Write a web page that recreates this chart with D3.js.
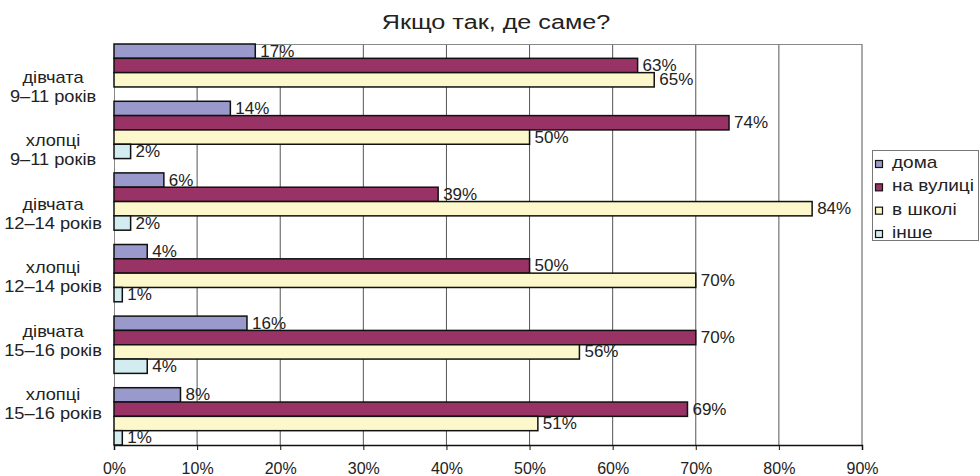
<!DOCTYPE html>
<html>
<head>
<meta charset="utf-8">
<script src="https://cdn.jsdelivr.net/npm/d3@7"></script>
<style>
  body { margin: 0; background: #fff; }
  svg { display: block; font-family: "Liberation Sans", Arial, sans-serif; }
</style>
</head>
<body>
<div id="chart"></div>
<script>
const title = "Якщо так, де саме?";
const groups = ["дівчата|9–11 років", "хлопці|9–11 років", "дівчата|12–14 років",
                "хлопці|12–14 років", "дівчата|15–16 років", "хлопці|15–16 років"];
const seriesNames = ["дома", "на вулиці", "в школі", "інше"];
const homeVals   = [17, 14, 6, 4, 16, 8];
const streetVals = [63, 74, 39, 50, 70, 69];
const schoolVals = [65, 50, 84, 70, 56, 51];
const otherVals  = [null, 2, 2, 1, 4, 1];
const xTicks = [0, 10, 20, 30, 40, 50, 60, 70, 80, 90];
const colors = ["#9999cc", "#993366", "#fcf8cc", "#d2ecef"];

const seriesVals = [homeVals, streetVals, schoolVals, otherVals];

const width = 980, height = 476;
const plot = { left: 114, right: 862, top: 44, bottom: 445 };

const svg = d3.select("#chart").append("svg")
    .attr("width", width)
    .attr("height", height);

// one slot per bar, with an empty slot between groups (none after the first group)
const slots = [];
groups.forEach((g, i) => {
    seriesNames.forEach(s => slots.push(i + "|" + s));
    if (i > 0 && i < groups.length - 1) slots.push("gap" + i);
});

const x = d3.scaleLinear().domain([0, 90]).range([plot.left, plot.right]);
const y = d3.scaleBand().domain(slots).range([plot.top, plot.bottom]).padding(0);
const labelY = d3.scalePoint().domain(groups).range([83, 400]);

// title (the source font is a bit wider than Arial)
svg.append("text")
    .attr("transform", "translate(496,29) scale(1.2,1)")
    .attr("text-anchor", "middle")
    .style("font-size", "21px")
    .attr("fill", "#222")
    .text(title);

// gridlines
svg.append("g").selectAll("line")
    .data(xTicks.filter(d => d > 0))
    .enter().append("line")
    .attr("x1", d => x(d)).attr("x2", d => x(d))
    .attr("y1", plot.top).attr("y2", plot.bottom)
    .attr("stroke", "#555").attr("stroke-width", 1);

svg.append("line")
    .attr("x1", plot.left).attr("x2", plot.right)
    .attr("y1", plot.top + 0.5).attr("y2", plot.top + 0.5)
    .attr("stroke", "#888");
svg.append("line")
    .attr("x1", plot.left + 0.5).attr("x2", plot.left + 0.5)
    .attr("y1", plot.top).attr("y2", plot.bottom)
    .attr("stroke", "#888");

// bars
const bars = [];
groups.forEach((g, i) => {
    seriesNames.forEach((s, j) => {
        const v = seriesVals[j][i];
        if (v != null) bars.push({ group: i, series: j, key: i + "|" + s, value: v });
    });
});

svg.append("g").selectAll("rect")
    .data(bars)
    .enter().append("rect")
    .attr("x", x(0))
    .attr("y", d => y(d.key))
    .attr("width", d => x(d.value) - x(0))
    .attr("height", y.bandwidth())
    .attr("fill", d => colors[d.series])
    .attr("stroke", "#111")
    .attr("stroke-width", 1.5);

svg.append("g").selectAll("text")
    .data(bars)
    .enter().append("text")
    .attr("x", d => x(d.value) + 5)
    .attr("y", d => y(d.key) + y.bandwidth() / 2 + 1)
    .attr("dominant-baseline", "middle")
    .style("font-size", "17px")
    .attr("fill", "#222")
    .text(d => d.value + "%");

// x axis
const xAxis = svg.append("g")
    .attr("transform", `translate(0,${plot.bottom})`)
    .call(d3.axisBottom(x).tickValues(xTicks).tickFormat(d => d + "%").tickSize(5).tickPadding(13));
xAxis.select(".domain").attr("stroke", "#111").attr("stroke-width", 1.5);
xAxis.selectAll(".tick line").attr("stroke", "#111");
xAxis.selectAll("text")
    .style("font-size", "16px")
    .style("font-family", "Liberation Sans, Arial, sans-serif")
    .attr("fill", "#222");

// category labels (two lines each)
const cat = svg.append("g").selectAll("text")
    .data(groups)
    .enter().append("text")
    .attr("transform", d => `translate(53,${labelY(d)}) scale(1.14,1)`)
    .attr("text-anchor", "middle")
    .style("font-size", "16px")
    .attr("fill", "#222");
cat.append("tspan")
    .attr("x", 0).attr("y", 0)
    .text(d => d.split("|")[0]);
cat.append("tspan")
    .attr("x", 0).attr("y", 19)
    .text(d => d.split("|")[1]);

// legend
const legend = svg.append("g");
legend.append("rect")
    .attr("x", 872.5).attr("y", 150.5)
    .attr("width", 106).attr("height", 90)
    .attr("fill", "#fff").attr("stroke", "#777");
const ly = d3.scalePoint().domain(seriesNames).range([164, 234]);
const items = legend.selectAll("g.item")
    .data(seriesNames)
    .enter().append("g");
items.append("rect")
    .attr("x", 875.5).attr("y", d => ly(d) - 3.5)
    .attr("width", 7).attr("height", 7)
    .attr("fill", (d, i) => colors[i])
    .attr("stroke", "#111").attr("stroke-width", 1.2);
items.append("text")
    .attr("transform", d => `translate(892,${ly(d) + 4}) scale(1.12,1)`)
    .style("font-size", "17px")
    .attr("fill", "#222")
    .text(d => d);
</script>
</body>
</html>
